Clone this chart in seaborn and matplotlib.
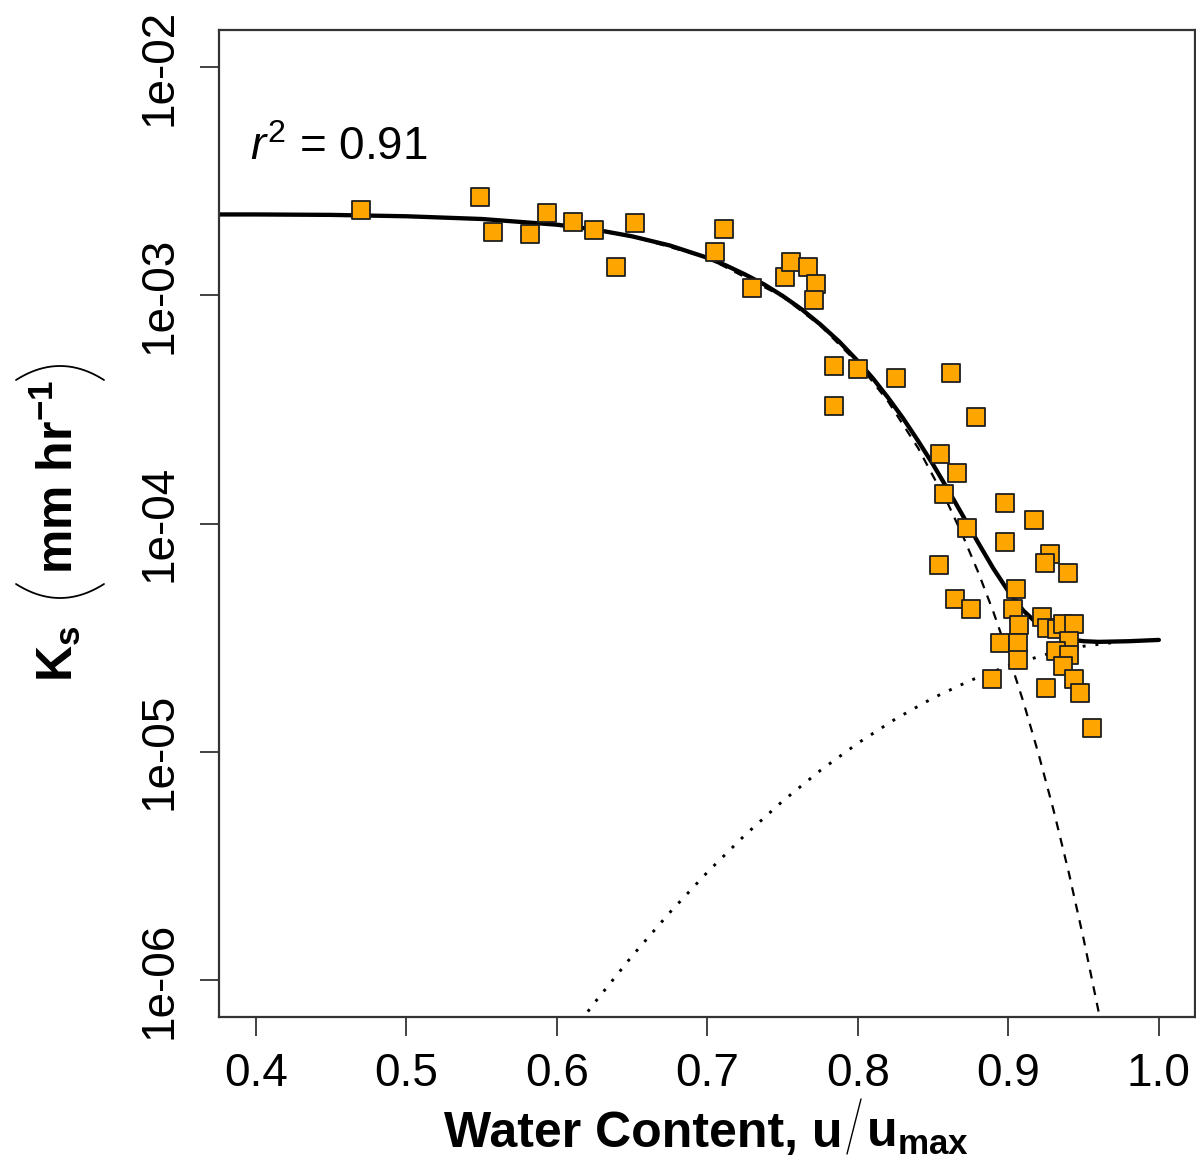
import numpy as np
import pandas as pd
import matplotlib
matplotlib.use("Agg")
import matplotlib.pyplot as plt
from matplotlib.lines import Line2D
import seaborn as sns
from matplotlib.ticker import FixedLocator, NullLocator, FixedFormatter

# ---------------- data ----------------
x_obs = [0.4698, 0.5488, 0.5575, 0.5821, 0.5934, 0.6106, 0.6246, 0.6392, 0.6518,
         0.7050, 0.7110, 0.7296, 0.7515, 0.7555, 0.7668, 0.7721, 0.7708,
         0.7841, 0.7841, 0.8000, 0.8252, 0.8618, 0.8784, 0.8545, 0.8658, 0.8571,
         0.8724, 0.8977, 0.9169, 0.8977, 0.9276, 0.9243, 0.9395, 0.8538, 0.9050,
         0.8645, 0.8751, 0.9030, 0.9070, 0.9223, 0.9256, 0.9322, 0.9362, 0.9435,
         0.8944, 0.9063, 0.9402, 0.9316, 0.9402, 0.9063, 0.9362, 0.8890, 0.9435,
         0.9249, 0.9475, 0.9555]
ks_obs = [2.36e-3, 2.69e-3, 1.89e-3, 1.85e-3, 2.29e-3, 2.09e-3, 1.93e-3, 1.33e-3, 2.07e-3,
          1.55e-3, 1.95e-3, 1.08e-3, 1.20e-3, 1.40e-3, 1.33e-3, 1.12e-3, 9.5e-4,
          4.89e-4, 3.26e-4, 4.73e-4, 4.32e-4, 4.55e-4, 2.92e-4, 2.01e-4, 1.66e-4, 1.34e-4,
          9.6e-5, 1.23e-4, 1.04e-4, 8.26e-5, 7.32e-5, 6.68e-5, 6.04e-5, 6.55e-5, 5.19e-5,
          4.69e-5, 4.24e-5, 4.20e-5, 3.61e-5, 3.91e-5, 3.50e-5, 3.46e-5, 3.64e-5, 3.64e-5,
          3.01e-5, 3.01e-5, 3.07e-5, 2.77e-5, 2.66e-5, 2.53e-5, 2.38e-5, 2.09e-5, 2.09e-5,
          1.91e-5, 1.80e-5, 1.27e-5]

# total fitted curve (solid)
solid_x = [0.375, 0.40, 0.45, 0.50, 0.55, 0.60, 0.625, 0.65, 0.675, 0.70, 0.7125, 0.725,
           0.7375, 0.75, 0.7625, 0.775, 0.7875, 0.80, 0.81, 0.82, 0.83, 0.84, 0.85, 0.86,
           0.87, 0.88, 0.89, 0.90, 0.91, 0.92, 0.93, 0.94, 0.95, 0.96, 0.98, 1.00]
solid_k = [2.259e-3, 2.259e-3, 2.249e-3, 2.218e-3, 2.158e-3, 2.037e-3, 1.941e-3, 1.811e-3,
           1.652e-3, 1.459e-3, 1.349e-3, 1.233e-3, 1.117e-3, 9.93e-4, 8.69e-4, 7.45e-4,
           6.27e-4, 5.14e-4, 4.32e-4, 3.56e-4, 2.89e-4, 2.30e-4, 1.81e-4, 1.40e-4,
           1.074e-4, 8.22e-5, 6.35e-5, 5.04e-5, 4.15e-5, 3.60e-5, 3.27e-5, 3.11e-5,
           3.05e-5, 3.03e-5, 3.05e-5, 3.09e-5]

# first component (dashed)
dash_x = [0.375, 0.45, 0.50, 0.55, 0.60, 0.65, 0.70, 0.75, 0.775, 0.80, 0.82, 0.84,
          0.86, 0.87, 0.88, 0.89, 0.90, 0.91, 0.92, 0.93, 0.94, 0.95, 0.96, 0.97]
dash_k = [2.259e-3, 2.249e-3, 2.218e-3, 2.158e-3, 2.037e-3, 1.811e-3, 1.459e-3, 9.86e-4,
          7.36e-4, 5.04e-4, 3.43e-4, 2.14e-4, 1.213e-4, 8.74e-5, 6.10e-5, 4.10e-5,
          2.65e-5, 1.65e-5, 9.79e-6, 5.55e-6, 2.98e-6, 1.51e-6, 7.23e-7, 3.23e-7]

# second component (dotted)
dot_x = [0.60, 0.625, 0.65, 0.675, 0.70, 0.725, 0.75, 0.775, 0.80, 0.825, 0.85,
         0.875, 0.90, 0.925, 0.95, 0.975, 1.00]
dot_k = [4.81e-7, 7.96e-7, 1.276e-6, 1.977e-6, 2.97e-6, 4.32e-6, 6.08e-6, 8.28e-6,
         1.091e-5, 1.393e-5, 1.722e-5, 2.057e-5, 2.38e-5, 2.67e-5, 2.90e-5, 3.04e-5, 3.09e-5]

x_ticks = [0.4, 0.5, 0.6, 0.7, 0.8, 0.9, 1.0]
x_ticklabels = ["0.4", "0.5", "0.6", "0.7", "0.8", "0.9", "1.0"]
y_ticks = [1e-6, 1e-5, 1e-4, 1e-3, 1e-2]
y_ticklabels = ["1e-06", "1e-05", "1e-04", "1e-03", "1e-02"]
r2_text = r"$r^{2}$ = 0.91"

# ---------------- style ----------------
sns.set_theme(style="ticks")
plt.rcParams["font.family"] = ["Liberation Sans", "DejaVu Sans"]
plt.rcParams["mathtext.fontset"] = "custom"
plt.rcParams["mathtext.rm"] = "Liberation Sans"
plt.rcParams["mathtext.it"] = "Liberation Sans:italic"
plt.rcParams["mathtext.bf"] = "Liberation Sans:bold"
plt.rcParams["text.color"] = "black"
plt.rcParams["axes.labelcolor"] = "black"
plt.rcParams["xtick.color"] = "black"
plt.rcParams["ytick.color"] = "black"

W, H = 1196, 1162
fig = plt.figure(figsize=(W / 100, H / 100), dpi=100)
ax = fig.add_axes([219 / W, 1 - 1017 / H, (1195 - 219) / W, (1017 - 30) / H])
ax.set_yscale("log")

obs = pd.DataFrame({"x": x_obs, "k": ks_obs})
sol = pd.DataFrame({"x": solid_x, "k": solid_k})
dsh = pd.DataFrame({"x": dash_x, "k": dash_k})
dtt = pd.DataFrame({"x": dot_x, "k": dot_k})

sns.lineplot(data=dsh, x="x", y="k", ax=ax, color="black", lw=1.6,
             sort=False, estimator=None, zorder=2)
ax.lines[-1].set_dashes([4, 3.6])
sns.lineplot(data=dtt, x="x", y="k", ax=ax, color="black", lw=2.1,
             sort=False, estimator=None, zorder=2)
ax.lines[-1].set_dashes([1.0, 3.4])
ax.lines[-1].set_dash_capstyle("butt")
sns.lineplot(data=sol, x="x", y="k", ax=ax, color="black", lw=3.1,
             sort=False, estimator=None, zorder=2.5)
sns.scatterplot(data=obs, x="x", y="k", ax=ax, marker="s", s=175,
                color="#FFA500", edgecolor="#1e1e1e", linewidth=1.3, zorder=3)

ax.set_xlim(0.3754, 1.024)
ax.set_ylim(10 ** -6.162, 10 ** -1.838)

ax.xaxis.set_major_locator(FixedLocator(x_ticks))
ax.xaxis.set_major_formatter(FixedFormatter(x_ticklabels))
ax.yaxis.set_major_locator(FixedLocator(y_ticks))
ax.yaxis.set_major_formatter(FixedFormatter(y_ticklabels))
ax.yaxis.set_minor_locator(NullLocator())
ax.xaxis.set_minor_locator(NullLocator())

ax.tick_params(axis="both", which="major", length=14, width=1.3, color="#333333",
               labelsize=33, labelcolor="black")
ax.tick_params(axis="x", pad=11)
ax.tick_params(axis="y", pad=13, labelrotation=90)
for lab in ax.get_yticklabels():
    lab.set_va("center")

for sp in ax.spines.values():
    sp.set_visible(True)
    sp.set_color("#333333")
    sp.set_linewidth(1.6)

ax.set_xlabel("")
ax.set_ylabel("")

ax.text(0.396, 10 ** -2.408, r2_text, fontsize=33, ha="left", va="baseline")


def fx(px):
    return px / W


def fy(py):
    return 1 - py / H


# x axis label: "Water Content, u / u_max" with a thin tall slash
fig.text(fx(842), fy(1147), "Water Content, u", fontsize=36, fontweight="bold",
         ha="right", va="baseline")
fig.text(fx(866), fy(1147), r"u$_{\mathbf{max}}$", fontsize=36, fontweight="bold",
         ha="left", va="baseline")
fig.add_artist(Line2D([fx(847), fx(861)], [fy(1154), fy(1099)], transform=fig.transFigure,
                      color="black", lw=1.0))

# y axis label: K_s (mm hr^-1) with tall thin parentheses
fig.text(fx(73), fy(682), r"K$_{\mathbf{s}}$", fontsize=36, fontweight="bold",
         rotation=90, rotation_mode="anchor", ha="left", va="baseline")
fig.text(fx(73), fy(574), r"mm hr$^{\mathbf{-1}}$", fontsize=36, fontweight="bold",
         rotation=90, rotation_mode="anchor", ha="left", va="baseline")
u = np.linspace(-1, 1, 40)
px_x = 60 + 44 * u
fig.add_artist(Line2D(fx(px_x), fy(584 + 14 * (1 - u ** 2)), transform=fig.transFigure,
                      color="black", lw=1.3))
fig.add_artist(Line2D(fx(px_x), fy(380 - 14 * (1 - u ** 2)), transform=fig.transFigure,
                      color="black", lw=1.3))

fig.savefig("out.png", dpi=100)
